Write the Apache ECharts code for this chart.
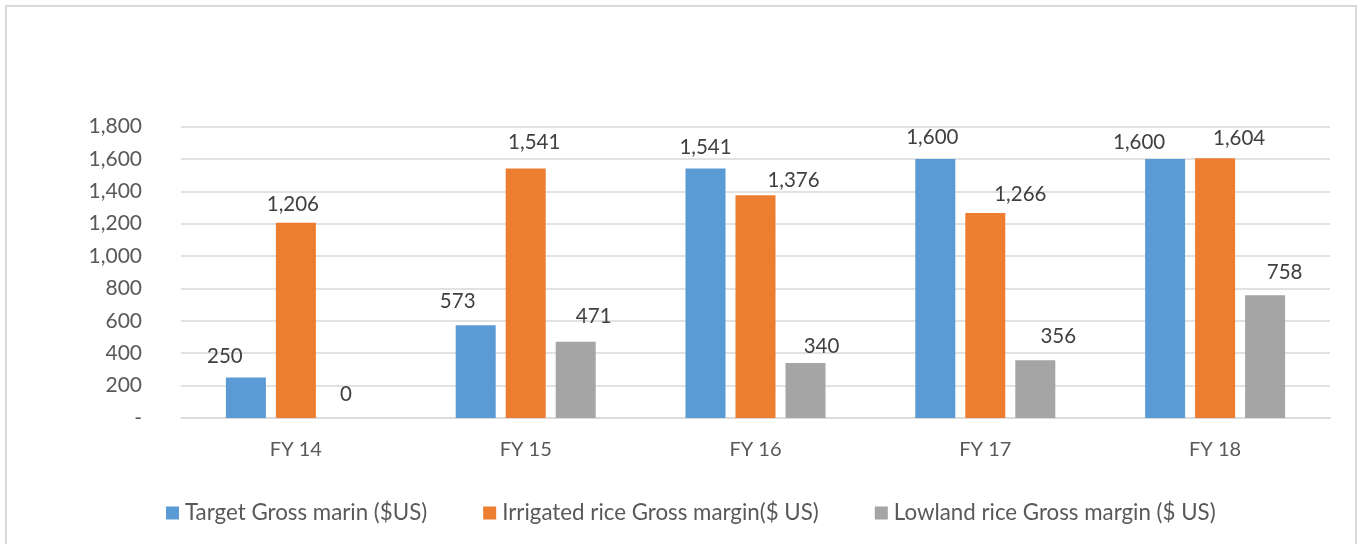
<!DOCTYPE html>
<html>
<head>
<meta charset="utf-8">
<script src="https://cdn.jsdelivr.net/npm/echarts@6/dist/echarts.min.js"></script>
<style>
html,body{margin:0;padding:0;background:#fff;overflow:hidden;}
#frame{position:absolute;left:5px;top:5px;width:1352px;height:560px;border:2px solid #d9d9d9;box-sizing:border-box;}
#chart{position:absolute;left:0;top:0;width:1361px;height:544px;}
</style>
</head>
<body>
<div id="frame"></div>
<div id="chart"></div>
<script>
const categories = ['FY 14', 'FY 15', 'FY 16', 'FY 17', 'FY 18'];
const seriesNames = ['Target Gross marin ($US)', 'Irrigated rice Gross margin($ US)', 'Lowland rice Gross margin ($ US)'];
const targetValues = [250, 573, 1541, 1600, 1600];
const irrigatedValues = [1206, 1541, 1376, 1266, 1604];
const lowlandValues = [0, 471, 340, 356, 758];
const yTicks = [0, 200, 400, 600, 800, 1000, 1200, 1400, 1600, 1800];

// manual label nudges (px), as placed in the original chart
const targetLabelShift = [[-21, -2], [-18, -4.5], [0, -2], [-3, -1.5], [-26, 3.5]];
const irrigatedLabelShift = [[-3, 1], [8.5, -7], [38, 5], [35, 0.5], [24, 0]];
const lowlandLabelShift = [[0, -4.5], [18, -6], [16, 2.5], [23, -4], [19.5, -3.5]];

const FONT = 'Lato';
const fmt = v => v === 0 ? '-' : v.toLocaleString('en-US');
const colors = ['#5B9BD5', '#ED7D31', '#A5A5A5'];

function mk(name, values, shifts, color) {
  return {
    name, type: 'bar', barWidth: 40, barGap: '25%',
    data: values.map((v, i) => ({ value: v, label: { offset: shifts[i] } })),
    itemStyle: { color },
    label: {
      show: true, position: 'top', distance: 9,
      fontFamily: FONT, fontSize: 20.5, color: '#404040',
      formatter: p => p.value.toLocaleString('en-US')
    }
  };
}

const chart = echarts.init(document.getElementById('chart'));
chart.setOption({
  animation: false,
  color: colors,
  grid: { left: 181, right: 31, top: 126.5, bottom: 126 },
  legend: {
    left: 161, top: 497, icon: 'rect', itemWidth: 13, itemHeight: 13, itemGap: 56,
    textStyle: { fontFamily: FONT, fontSize: 22.3, color: '#595959', padding: [0, 0, 0, 1] },
    data: seriesNames
  },
  xAxis: {
    type: 'category', data: categories,
    axisLine: { lineStyle: { color: '#d9d9d9', width: 1.5 } },
    axisTick: { show: false },
    axisLabel: { fontFamily: FONT, fontSize: 20, color: '#595959', margin: 22 }
  },
  yAxis: {
    type: 'value', min: yTicks[0], max: yTicks[yTicks.length - 1], interval: 200,
    axisLine: { show: false }, axisTick: { show: false },
    splitLine: { lineStyle: { color: '#d9d9d9', width: 1.5 } },
    axisLabel: { fontFamily: FONT, fontSize: 21, color: '#595959', margin: 39, formatter: fmt }
  },
  series: [
    mk(seriesNames[0], targetValues, targetLabelShift, colors[0]),
    mk(seriesNames[1], irrigatedValues, irrigatedLabelShift, colors[1]),
    mk(seriesNames[2], lowlandValues, lowlandLabelShift, colors[2])
  ]
});
</script>
</body>
</html>
